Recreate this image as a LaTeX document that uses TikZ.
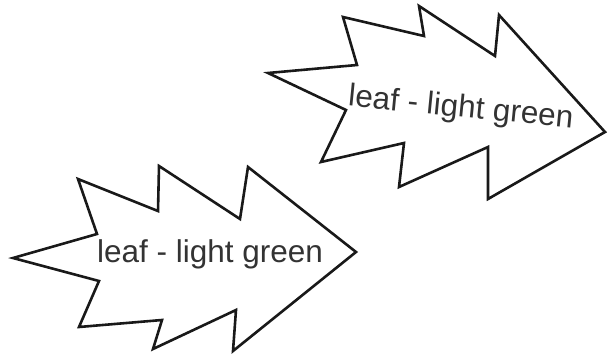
\documentclass[tikz,border=0pt]{standalone}
\usepackage{fontspec}
\setmainfont{Liberation Sans}
\tikzset{
  leaf/.style={draw=black!90, line width=2.6pt, line join=miter, fill=white},
  leaflabel/.style={anchor=base, inner sep=0pt, text=black!80, font=\fontsize{31.5}{36}\selectfont}
}
\begin{document}
\begin{tikzpicture}[x=1pt, y=-1pt]
\useasboundingbox (0,0) rectangle (615,356);
% upper leaf
\draw[leaf] (268,73) -- (357,65) -- (343,17) -- (424,36) -- (419,6) -- (495,56)
  -- (499,15) -- (605,132) -- (488,199) -- (488,147) -- (399,187) -- (404,143)
  -- (321,162) -- (346,110) -- cycle;
\node[leaflabel, rotate=-5.6] (upper) at (460,117) {leaf - light green};
% lower leaf
\draw[leaf] (13,258) -- (97,234) -- (78,179) -- (158,211) -- (159,166) -- (240,219)
  -- (248,167) -- (356,252) -- (233,351) -- (236,310) -- (153,349) -- (162,320)
  -- (79,327) -- (99,281) -- cycle;
\node[leaflabel] (lower) at (210,262) {leaf - light green};
\end{tikzpicture}
\end{document}
